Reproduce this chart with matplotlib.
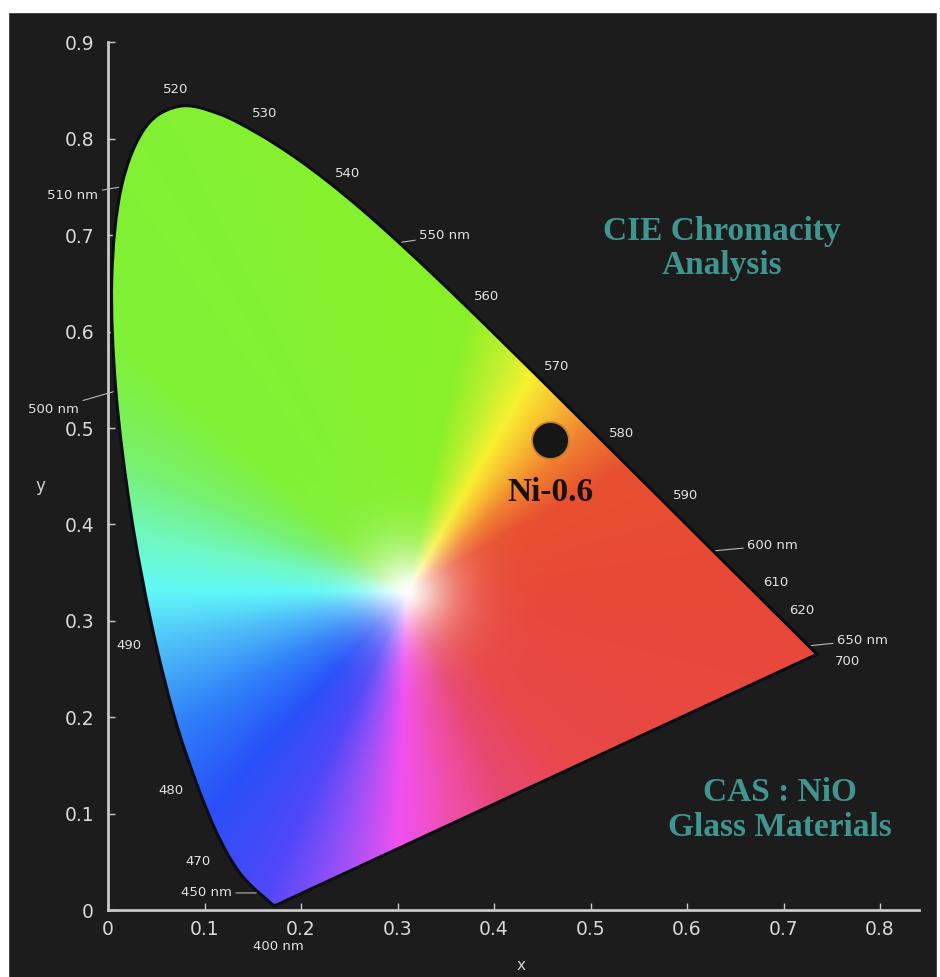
import numpy as np
import matplotlib
matplotlib.use("Agg")
import matplotlib.pyplot as plt
from matplotlib.patches import PathPatch, Rectangle
from matplotlib.path import Path
from matplotlib.colors import to_rgb

# CIE 1931 spectral locus (nm, x, y)
wl = [380, 390, 400, 410, 420, 430, 440, 450, 455, 460, 465, 470, 475, 480,
      485, 490, 495, 500, 505, 510, 515, 520, 525, 530, 535, 540, 545, 550,
      555, 560, 565, 570, 575, 580, 585, 590, 595, 600, 605, 610, 615, 620,
      625, 630, 640, 650, 660, 670, 680, 690, 700]
lx = [0.1741, 0.1738, 0.1733, 0.1726, 0.1714, 0.1689, 0.1644, 0.1566, 0.1510,
      0.1440, 0.1355, 0.1241, 0.1096, 0.0913, 0.0687, 0.0454, 0.0235, 0.0082,
      0.0039, 0.0139, 0.0389, 0.0743, 0.1142, 0.1547, 0.1929, 0.2296, 0.2658,
      0.3016, 0.3373, 0.3731, 0.4087, 0.4441, 0.4788, 0.5125, 0.5448, 0.5752,
      0.6029, 0.6270, 0.6482, 0.6658, 0.6801, 0.6915, 0.7006, 0.7079, 0.7190,
      0.7260, 0.7300, 0.7320, 0.7334, 0.7344, 0.7347]
ly = [0.0050, 0.0049, 0.0048, 0.0048, 0.0051, 0.0069, 0.0109, 0.0177, 0.0227,
      0.0297, 0.0399, 0.0578, 0.0868, 0.1327, 0.2007, 0.2950, 0.4127, 0.5384,
      0.6548, 0.7502, 0.8120, 0.8338, 0.8262, 0.8059, 0.7816, 0.7543, 0.7243,
      0.6923, 0.6589, 0.6245, 0.5896, 0.5547, 0.5202, 0.4866, 0.4544, 0.4242,
      0.3965, 0.3725, 0.3514, 0.3340, 0.3197, 0.3083, 0.2993, 0.2920, 0.2809,
      0.2740, 0.2700, 0.2680, 0.2666, 0.2656, 0.2653]

# wavelength labels
lab_wl = [520, 530, 540, 550, 560, 570, 580, 590, 600, 610, 620, 650, 700,
          510, 500, 490, 480, 470, 450, 400]
lab_txt = ['520', '530', '540', '550 nm', '560', '570', '580', '590', '600 nm',
           '610', '620', '650 nm', '700', '510 nm', '500 nm', '490', '480',
           '470', '450 nm', '400 nm']

sample_x, sample_y, sample_name = 0.458, 0.4875, 'Ni-0.6'

fig = plt.figure(figsize=(9.4, 9.77), dpi=100, facecolor='#1c1c1c')
for r in [(0, 1 - 12 / 977, 1, 12 / 977), (0, 0, 8 / 940, 1), (1 - 3 / 940, 0, 3 / 940, 1)]:
    fig.patches.append(Rectangle(r[:2], r[2], r[3], transform=fig.transFigure,
                                 color='white', zorder=10))

ax = fig.add_axes([108 / 940, 67 / 977, 810.6 / 940, 867.6 / 977])
ax.set_facecolor('#1c1c1c')
ax.set_xlim(0, 0.84)
ax.set_ylim(0, 0.9)

# smooth outline through the locus points (Catmull-Rom as cubic Bezier)
P = np.column_stack([lx, ly])
n = len(P)
verts = [P[0]]
codes = [Path.MOVETO]
for i in range(n - 1):
    p0 = P[max(i - 1, 0)]
    p1, p2 = P[i], P[i + 1]
    p3 = P[min(i + 2, n - 1)]
    verts += [p1 + (p2 - p0) / 6, p2 - (p3 - p1) / 6, p2]
    codes += [Path.CURVE4] * 3
verts += [P[0], P[0]]
codes += [Path.LINETO, Path.CLOSEPOLY]
outline = Path(verts, codes)

# colour fill: hue by angle around white point, fading to white at centre
wx, wy = 0.31, 0.33
ang = [-180, -168, -150, -132, -115, -105, -92, -80, -65, -45, 0, 30, 42, 52,
       60, 68, 78, 140, 155, 168, 180]
cols = ['#60f8f8', '#50c0f8', '#3080f8', '#2850f8', '#5048f8', '#9050f8',
        '#f050f0', '#f050b0', '#e84870', '#e84848', '#e84838', '#e85030',
        '#f08030', '#f8c030', '#f8f030', '#c0f030', '#88f028', '#80f038',
        '#78f070', '#70f8c0', '#60f8f8']
crgb = np.array([to_rgb(c) for c in cols])
gx, gy = np.meshgrid(np.linspace(0, 0.75, 700), np.linspace(0, 0.85, 700))
theta = np.degrees(np.arctan2(gy - wy, gx - wx))
dist = np.hypot(gx - wx, gy - wy)
img = np.stack([np.interp(theta, ang, crgb[:, k]) for k in range(3)], axis=-1)
s = 1 - np.exp(-(dist / 0.045) ** 1.5)
img = 1 - s[..., None] * (1 - img)

poly = PathPatch(outline, facecolor='none', edgecolor='#0c0c14', linewidth=2.2, zorder=3)
ax.add_patch(poly)
im = ax.imshow(img, origin='lower', extent=(0, 0.75, 0, 0.85), interpolation='bilinear',
               zorder=2, aspect='auto')
im.set_clip_path(poly)

# wavelength labels (offsets in points)
offs = {520: (-3, 12), 530: (5, 14), 540: (13, 6.5), 550: (33, 5), 560: (13, 8),
        570: (14.5, 6.5), 580: (14, 5), 590: (16, 4), 600: (43, 4), 610: (18, 4),
        620: (19, 2), 650: (39, 4), 700: (22, -5), 510: (-35, -6), 500: (-45, -13),
        490: (-16.5, -14), 480: (-18, -6), 470: (-21.5, -5), 450: (-38, 0),
        400: (2, -29.5)}
lined = {'550 nm', '600 nm', '650 nm', '510 nm', '500 nm', '450 nm'}
for w, t in zip(lab_wl, lab_txt):
    px = np.interp(w, wl, lx)
    py = np.interp(w, wl, ly)
    arr = dict(arrowstyle='-', color='#b8b8b8', lw=0.8, shrinkA=1, shrinkB=2) if t in lined else None
    ax.annotate(t, (px, py), xytext=offs[w], textcoords='offset points',
                ha='center', va='center', fontsize=9.5, color='#e2e2e2',
                arrowprops=arr, zorder=5)

ax.scatter([sample_x], [sample_y], s=700, color='#161616', edgecolors='#c87a30',
           linewidths=1.2, zorder=6)
ax.text(sample_x, 0.4326, sample_name, ha='center', va='center', fontsize=24,
        fontweight='bold', family='Liberation Serif', color='#1a1005', zorder=6)

ax.text(0.636, 0.686, 'CIE Chromacity\nAnalysis', ha='center', va='center',
        fontsize=24, fontweight='bold', family='Liberation Serif', color='#3f9690',
        linespacing=1.15, zorder=6)
ax.text(0.696, 0.104, 'CAS : NiO\nGlass Materials', ha='center', va='center',
        fontsize=24, fontweight='bold', family='Liberation Serif', color='#3f9690',
        linespacing=1.15, zorder=6)

for side in ['top', 'right']:
    ax.spines[side].set_visible(False)
for side in ['left', 'bottom']:
    ax.spines[side].set_color('#c8c8c8')
    ax.spines[side].set_linewidth(2)
ax.set_xticks(np.arange(0, 0.81, 0.1))
ax.set_yticks(np.arange(0, 0.91, 0.1))
ax.set_xticklabels(['0', '0.1', '0.2', '0.3', '0.4', '0.5', '0.6', '0.7', '0.8'])
ax.set_yticklabels(['0', '0.1', '0.2', '0.3', '0.4', '0.5', '0.6', '0.7', '0.8', '0.9'])
ax.tick_params(axis='both', direction='in', length=5, width=1, color='#c8c8c8',
               labelcolor='#d8d8d8', labelsize=13.5)
ax.tick_params(axis='x', pad=7)
ax.tick_params(axis='y', pad=10)
ax.set_xlabel('x', color='#d0d0d0', fontsize=11)
ax.set_ylabel('y', color='#d0d0d0', fontsize=12, rotation=0)
ax.xaxis.set_label_coords(0.509, -0.055)
ax.yaxis.set_label_coords(-0.084, 0.478)

fig.savefig('out.png', dpi=100, facecolor=fig.get_facecolor())
